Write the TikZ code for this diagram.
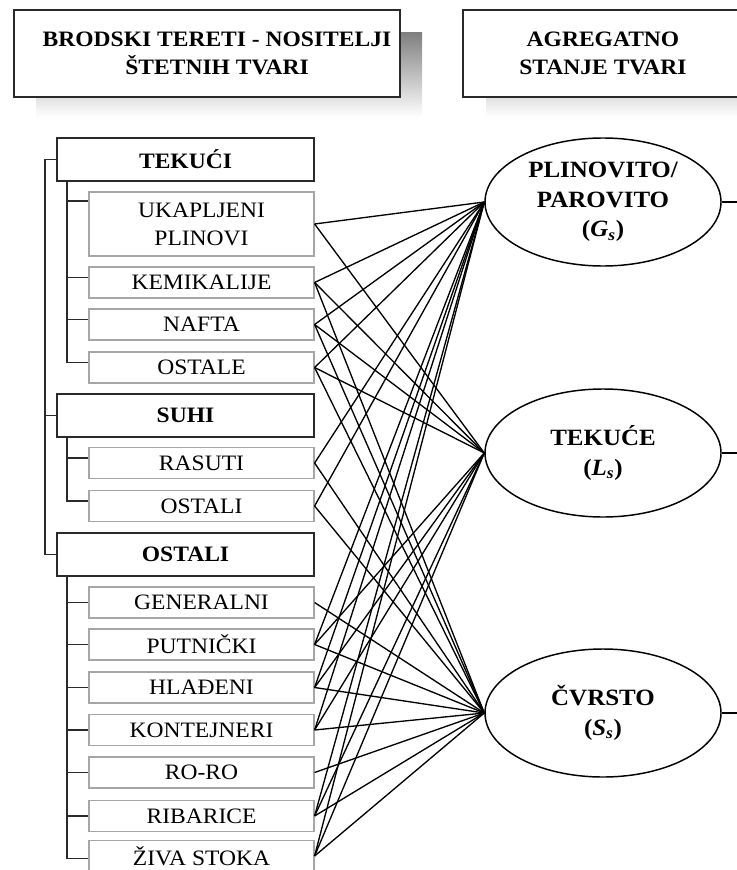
\documentclass[tikz,border=0pt]{standalone}
\usepackage{fontspec}
\setmainfont{Liberation Serif}[FakeStretch=1.07]
\usetikzlibrary{shapes.geometric}

\definecolor{boxdark}{HTML}{2A2A2A}
\definecolor{boxlight}{HTML}{A6A6A6}
\definecolor{shade}{HTML}{BEBEBE}

\tikzset{
  txt/.style={font=\fontsize{16.5}{21}\selectfont, align=center, inner sep=0pt},
  headbox/.style={draw=boxdark, line width=1.2pt, fill=white, minimum height=65.25pt, inner sep=0pt},
  headtext/.style={txt, font=\fontsize{16.5}{21}\selectfont\bfseries},
  groupbox/.style={txt, draw=boxdark, line width=1.2pt, minimum width=192.75pt,
    minimum height=32.25pt, font=\fontsize{16.5}{21}\selectfont\bfseries},
  leafbox/.style={txt, draw=boxlight, line width=0.9pt, minimum width=168.75pt, minimum height=23.25pt},
  statebox/.style={txt, ellipse, draw=black, line width=1.1pt, minimum width=177pt,
    minimum height=96pt, font=\fontsize{17.5}{22}\selectfont\bfseries},
  tree/.style={draw=boxdark, line width=1.2pt},
  link/.style={draw=black, line width=1pt},
}

\begin{document}
\begin{tikzpicture}[x=0.75pt,y=-0.75pt]
\useasboundingbox (0,0) rectangle (736,870);

% title boxes with their drop shadows
\fill[shade] (36,33) rectangle (422,117);
\node[headbox, minimum width=289.5pt] (head1) at (207,53.5) {};
\node[headtext] (head1t) at (217,53.5) {BRODSKI TERETI - NOSITELJI\\ŠTETNIH TVARI};
\fill[shade] (486,33) rectangle (766,117);
\node[headbox, minimum width=210pt] (head2) at (603,53.5) {};
\node[headtext] (head2t) at (603,53.5) {AGREGATNO\\STANJE TVARI};

% cargo groups
\node[groupbox] (tekuci) at (185.5,159.5) {TEKUĆI};
\node[groupbox] (suhi)   at (185.5,415.5) {SUHI};
\node[groupbox] (ostgrp) at (185.5,554.5) {OSTALI};

% cargo types
\node[leafbox, minimum height=48pt] (ukap) at (201.5,224) {UKAPLJENI\\PLINOVI};
\node[leafbox] (kemi)   at (201.5,282.5) {KEMIKALIJE};
\node[leafbox] (nafta)  at (201.5,324.5) {NAFTA};
\node[leafbox] (ostale) at (201.5,367.5) {OSTALE};
\node[leafbox] (rasuti) at (201.5,463)   {RASUTI};
\node[leafbox] (ostsuh) at (201.5,506)   {OSTALI};
\node[leafbox] (gener)  at (201.5,602.5) {GENERALNI};
\node[leafbox] (putni)  at (201.5,644.5) {PUTNIČKI};
\node[leafbox] (hladj)  at (201.5,687.5) {HLAĐENI};
\node[leafbox] (konte)  at (201.5,730)   {KONTEJNERI};
\node[leafbox] (roro)   at (201.5,772.5) {RO-RO};
\node[leafbox] (ribar)  at (201.5,816)   {RIBARICE};
\node[leafbox] (ziva)   at (201.5,856)   {ŽIVA STOKA};

% states of matter
\node[statebox] (gas) at (603,202) {PLINOVITO/\\PAROVITO\\(\textit{G}\textsubscript{\textit{s}})};
\node[statebox] (liq) at (603,453) {TEKUĆE\\(\textit{L}\textsubscript{\textit{s}})};
\node[statebox] (sol) at (603,713) {ČVRSTO\\(\textit{S}\textsubscript{\textit{s}})};

% tree: main branch
\draw[tree] (tekuci.west) -- ++(-8.25pt,0) |- (ostgrp.west);
\draw[tree] (suhi.west) -- ++(-8.25pt,0);

% tree: liquid cargo
\draw[tree] ([xshift=8.25pt]tekuci.south west) |- ([yshift=3.75pt]ostale.west);
\draw[tree] ([yshift=17.25pt]ukap.west) -- ++(-15.75pt,0);
\foreach \n in {kemi,nafta}
  \draw[tree] ([yshift=3.75pt]\n.west) -- ++(-15.75pt,0);

% tree: dry cargo
\draw[tree] ([xshift=8.25pt]suhi.south west) |- ([yshift=3.75pt]ostsuh.west);
\draw[tree] ([yshift=3.75pt]rasuti.west) -- ++(-15.75pt,0);

% tree: other cargo
\draw[tree] ([xshift=8.25pt]ostgrp.south west) |- ([yshift=-2pt]ziva.west);
\foreach \n in {gener,putni,hladj,konte,roro,ribar}
  \draw[tree] (\n.west) -- ++(-15.75pt,0);

% links from cargo types to states of matter
\foreach \n in {ukap,kemi,nafta,ostale,rasuti,ostsuh,putni,hladj,konte,ribar,ziva}
  \draw[link] (\n.east) -- (gas.west);
\foreach \n in {ukap,kemi,nafta,ostale,putni,hladj,konte,ribar,ziva}
  \draw[link] (\n.east) -- (liq.west);
\foreach \n in {kemi,nafta,ostale,rasuti,ostsuh,gener,putni,hladj,konte,roro,ribar,ziva}
  \draw[link] (\n.east) -- (sol.west);

% outgoing stubs on the right
\foreach \n in {gas,liq,sol}
  \draw[link] (\n.east) -- ++(12pt,0);
\end{tikzpicture}
\end{document}
